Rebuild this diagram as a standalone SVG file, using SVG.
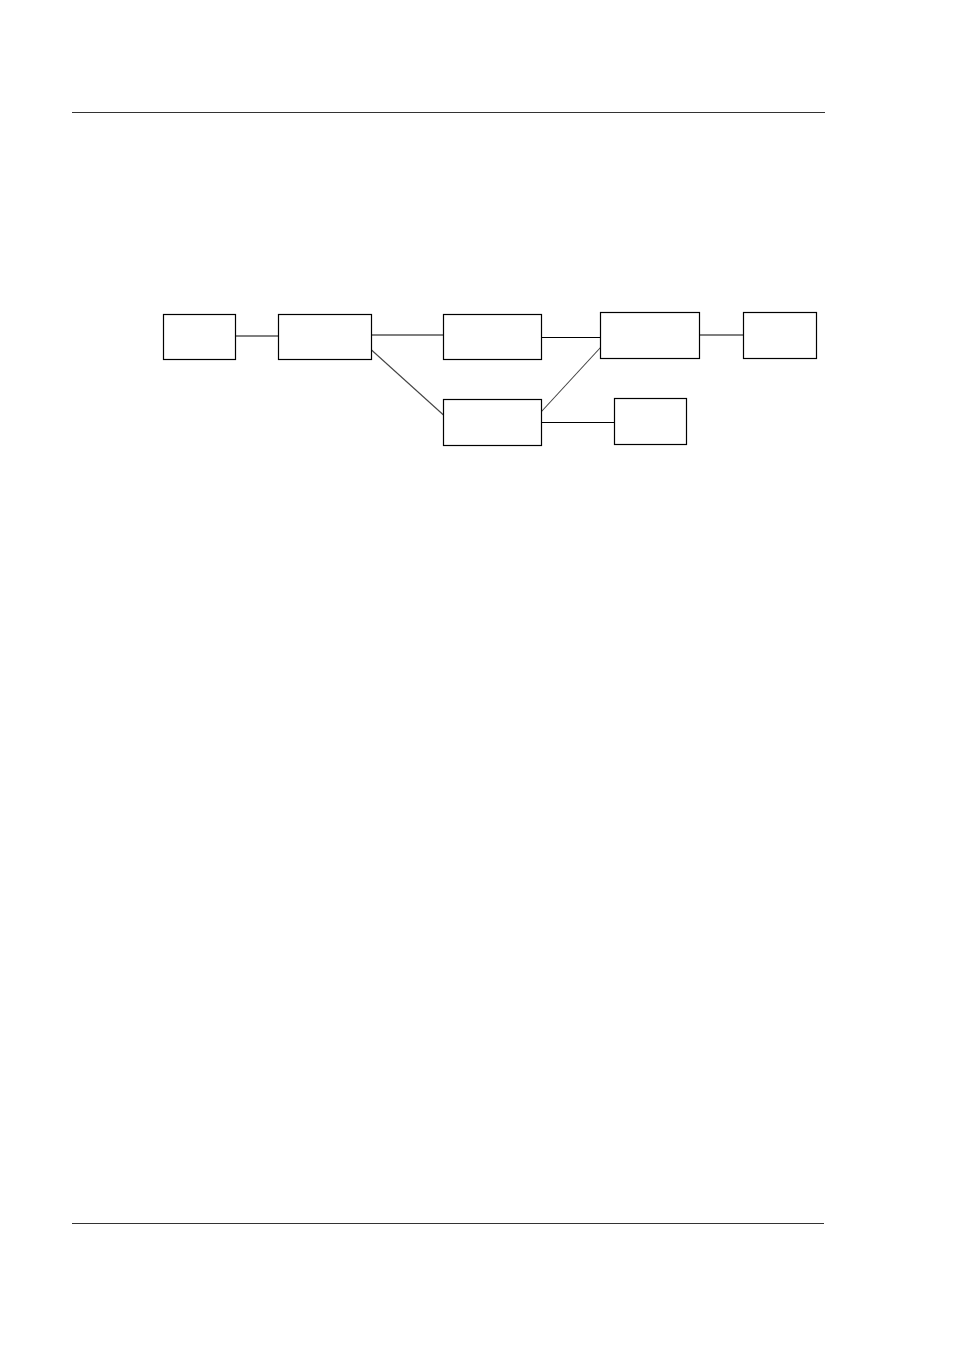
<svg xmlns="http://www.w3.org/2000/svg" width="954" height="1350" viewBox="0 0 954 1350">
<style>
.node rect{fill:#fff;stroke:#000;stroke-width:1.2}
.conn line{stroke:#000;stroke-width:1.1}
.conn line.diag{stroke:#444}
.rule{stroke:#333;stroke-width:1.1}
</style>
<rect width="954" height="1350" fill="#fff"/>
<line class="rule" x1="72" y1="112.5" x2="825" y2="112.5"/>
<line class="rule" x1="72" y1="1223.5" x2="824" y2="1223.5"/>
<g id="connectors" class="conn">
<line x1="235.5" y1="336" x2="278.5" y2="336"/>
<line x1="371.5" y1="335" x2="443.5" y2="335"/>
<line class="diag" x1="371.5" y1="350" x2="443.5" y2="415"/>
<line x1="541.5" y1="337.5" x2="600.5" y2="337.5"/>
<line class="diag" x1="541.5" y1="411.5" x2="600.5" y2="347.5"/>
<line x1="541.5" y1="422.5" x2="614.5" y2="422.5"/>
<line x1="699.5" y1="335" x2="743.5" y2="335"/>
</g>
<g id="node1" class="node"><rect x="163.5" y="314.5" width="72" height="45"/></g>
<g id="node2" class="node"><rect x="278.5" y="314.5" width="93" height="45"/></g>
<g id="node3" class="node"><rect x="443.5" y="314.5" width="98" height="45"/></g>
<g id="node4" class="node"><rect x="443.5" y="399.5" width="98" height="46"/></g>
<g id="node5" class="node"><rect x="600.5" y="312.5" width="99" height="46"/></g>
<g id="node6" class="node"><rect x="743.5" y="312.5" width="73" height="46"/></g>
<g id="node7" class="node"><rect x="614.5" y="398.5" width="72" height="46"/></g>
</svg>
